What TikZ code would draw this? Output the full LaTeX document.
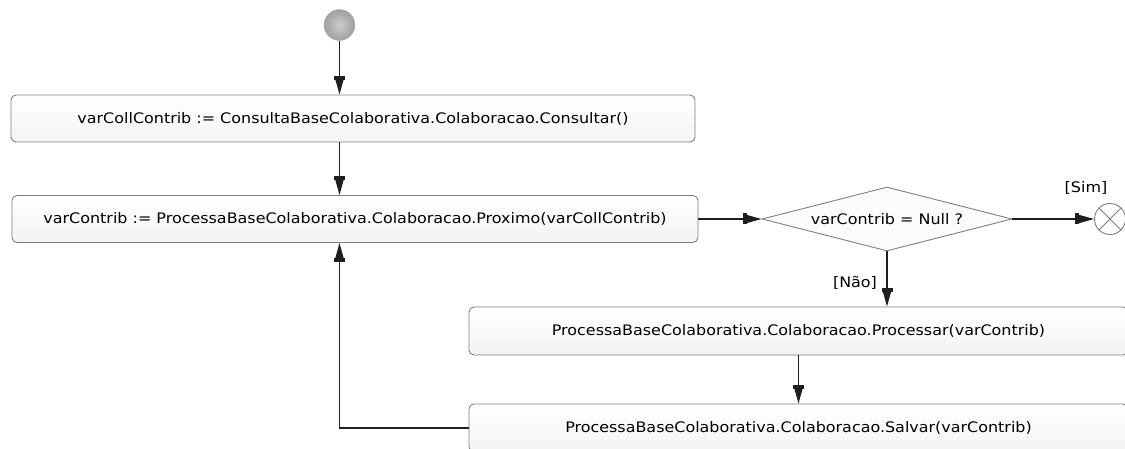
\documentclass[tikz,border=0pt]{standalone}
\usepackage{fontspec}
\setmainfont{DejaVu Sans}[FakeStretch=1.1]
\usetikzlibrary{arrows.meta,shapes.geometric,calc}
\definecolor{edge}{HTML}{7F7F7F}
\definecolor{ink}{HTML}{1E1E1E}
\begin{document}
\begin{tikzpicture}[x=1pt,y=-1pt,
  font=\fontsize{14.5}{16}\selectfont,
  actbox/.style={rectangle,rounded corners=5pt,draw=edge,line width=0.9pt,
    top color=white,bottom color=gray!9,inner sep=0pt},
  decbox/.style={diamond,draw=edge,line width=0.9pt,fill=gray!3,inner sep=0pt,
    aspect=3.9,minimum width=250pt,minimum height=64pt},
  flow/.style={draw=ink,line width=1.2pt,
    -{Rectangle[length=4pt,width=11pt,sep=0pt]Triangle[length=15pt,width=8pt]}},
  guard/.style={inner sep=0pt}]
\useasboundingbox (0,0) rectangle (1125,449);
\node[circle,minimum size=31pt,inner sep=0pt,draw=gray!60,line width=0.4pt,
  inner color=gray!40,outer color=gray!75] (start) at (339.5,25) {};
\node[actbox,minimum width=684pt,minimum height=47pt] (box1) at (353,118.5)
  {varCollContrib := ConsultaBaseColaborativa.Colaboracao.Consultar()};
\node[actbox,minimum width=686pt,minimum height=47pt] (box2) at (355,219)
  {varContrib := ProcessaBaseColaborativa.Colaboracao.Proximo(varCollContrib)};
\node[decbox] (dec) at (887,219) {varContrib = Null ?};
\node[circle,minimum size=31pt,inner sep=0pt,draw=edge,line width=0.9pt,fill=white] (end) at (1110,219) {};
\draw[edge,line width=0.9pt] (end.north east) -- (end.south west) (end.north west) -- (end.south east);
\node[actbox,minimum width=659pt,minimum height=48pt] (box3) at (798.5,331)
  {ProcessaBaseColaborativa.Colaboracao.Processar(varContrib)};
\node[actbox,minimum width=659pt,minimum height=48pt] (box4) at (798.5,428)
  {ProcessaBaseColaborativa.Colaboracao.Salvar(varContrib)};
\node[guard] (sim) at (1086,188) {[Sim]};
\node[guard] (nao) at (855,283) {[Não]};
\draw[flow] (start.south) -- (start.south |- box1.north);
\draw[flow] (start.south |- box1.south) -- (start.south |- box2.north);
\draw[flow] (box2.east) -- (dec.west);
\draw[flow] (dec.east) -- (end.west);
\draw[flow] (dec.south) -- (dec.south |- box3.north);
\draw[flow] (box3.south) -- (box4.north);
\draw[flow] (box4.west) -| (start.south |- box2.south);
\end{tikzpicture}
\end{document}
